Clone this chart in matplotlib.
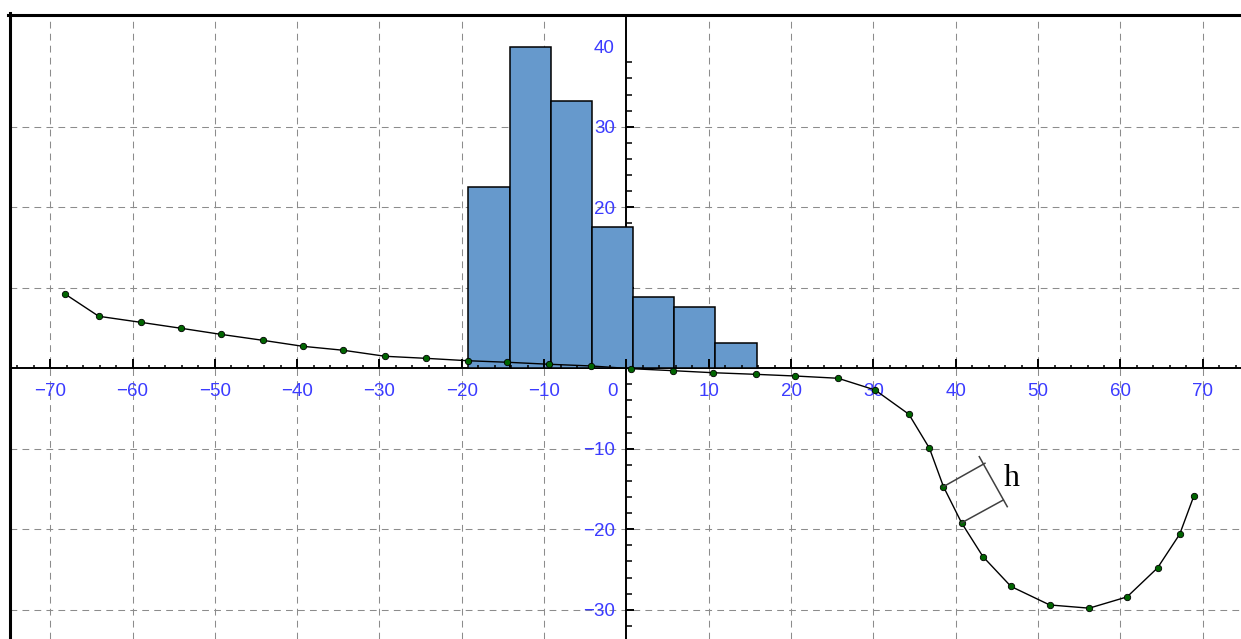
import matplotlib
matplotlib.use('Agg')
import matplotlib.pyplot as plt
from matplotlib.lines import Line2D
from matplotlib.ticker import FixedLocator

# ---------------- data ----------------
bin_left_edges = [-19.2, -14.2, -9.2, -4.2, 0.8, 5.8, 10.8]
bin_width = 5.0
bar_heights = [22.5, 39.9, 33.2, 17.5, 8.9, 7.6, 3.2]

curve_x = [-68.2, -64.1, -59.0, -54.1, -49.3, -44.2, -39.3, -34.4, -29.3, -24.4,
           -19.3, -14.5, -9.4, -4.3, 0.6, 5.7, 10.5, 15.7, 20.5, 25.7,
           30.2, 34.3, 36.8, 38.5, 40.7, 43.3, 46.7, 51.4, 56.2, 60.8,
           64.5, 67.2, 68.9]
curve_y = [9.23, 6.46, 5.71, 4.97, 4.22, 3.48, 2.73, 2.24, 1.49, 1.24,
           0.94, 0.75, 0.50, 0.29, -0.05, -0.30, -0.55, -0.75, -0.96, -1.24,
           -2.7, -5.71, -9.94, -14.7, -19.2, -23.4, -27.1, -29.4, -29.8, -28.4,
           -24.8, -20.6, -15.9]

h_line1_x = [38.5, 43.54]
h_line1_y = [-14.7, -11.8]
h_line2_x = [40.7, 45.77]
h_line2_y = [-19.2, -16.36]
h_cross_x = [42.85, 46.25]
h_cross_y = [-10.98, -17.19]
h_label = 'h'
h_label_pos = (46.8, -14.6)

x_major = list(range(-70, 71, 10))
x_grid = [v for v in x_major if v != 0]
x_minor = [v for v in range(-74, 75, 2) if v % 10 != 0]
y_major = [-30, -20, -10, 10, 20, 30, 40]
y_grid = [-30, -20, -10, 10, 20, 30]
y_minor = [v for v in range(-32, 39, 2) if v % 10 != 0]

# ---------------- figure ----------------
W, H = 1241, 639
fig = plt.figure(figsize=(W / 100, H / 100), dpi=100)
fig.patch.set_facecolor('white')
ax = fig.add_axes([9.5 / W, 0, 1 - 9.5 / W, 1 - 14.5 / H])
ax.set_facecolor('white')
ax.set_xlim(-74.94, 74.64)
ax.set_ylim(-33.63, 43.95)

label_color = '#3b3bff'
tick_font = dict(family='Liberation Sans', size=13.5)

# grid
for gx in x_grid:
    ax.axvline(gx, color='#8c8c8c', lw=0.75, linestyle=(0, (6.5, 5)), zorder=0.5)
for gy in y_grid:
    ax.axhline(gy, color='#8c8c8c', lw=0.75, linestyle=(0, (6.5, 5)), zorder=0.5)

# bars
ax.bar(bin_left_edges, bar_heights, width=bin_width, align='edge',
       color='#6699cc', edgecolor='black', linewidth=1.1, zorder=2.55)

# curve
ax.plot(curve_x, curve_y, color='black', lw=1.0, marker='o', ms=4.6,
        mfc='#006400', mec='black', mew=0.6, zorder=4)

# h annotation
for lx, ly in [(h_line1_x, h_line1_y), (h_line2_x, h_line2_y), (h_cross_x, h_cross_y)]:
    ax.plot(lx, ly, color='#404040', lw=1.1, zorder=4)
ax.text(h_label_pos[0], h_label_pos[1], h_label, family='Liberation Serif',
        fontsize=23, ha='center', va='baseline', color='black', zorder=5)

# spines as centered axes
for s in ['top', 'right']:
    ax.spines[s].set_visible(False)
ax.spines['left'].set_position(('data', 0))
ax.spines['bottom'].set_position(('data', 0))
ax.spines['left'].set_linewidth(1.4)
ax.spines['bottom'].set_linewidth(1.4)

def fmt(v):
    return str(v).replace('-', '\u2212')

ax.set_xticks(x_major, labels=['' if v == 0 else fmt(v) for v in x_major])
ax.xaxis.set_minor_locator(FixedLocator(x_minor))
ax.set_yticks(y_major, labels=[fmt(v) for v in y_major])
ax.yaxis.set_minor_locator(FixedLocator(y_minor))

ax.tick_params(axis='x', which='major', direction='in', length=6.5, width=1.4,
               pad=10.5, labelcolor=label_color)
ax.tick_params(axis='x', which='minor', direction='in', length=2.2, width=1.1)
ax.tick_params(axis='y', which='major', direction='in', length=6, width=1.4,
               pad=8.3, labelcolor=label_color)
ax.tick_params(axis='y', which='minor', direction='in', length=4, width=1.1)
for lab in ax.get_xticklabels() + ax.get_yticklabels():
    lab.set_fontfamily(tick_font['family'])
    lab.set_fontsize(tick_font['size'])
for t in ax.yaxis.get_major_ticks():
    if abs(t.get_loc() - 40) < 1e-9:
        t.tick1line.set_visible(False)

ax.xaxis.set_zorder(2.6)
ax.yaxis.set_zorder(2.5)

# "0" label of x axis, shifted left of the vertical axis
ax.annotate(fmt(0), xy=(0, 0), xytext=(-10.4, -10.5), textcoords='offset points',
            ha='center', va='top', color=label_color,
            family=tick_font['family'], fontsize=tick_font['size'])

# outer frame (left and top only)
fig.add_artist(Line2D([9.5 / W, 9.5 / W], [0, 1 - 13.3 / H], color='black',
                      lw=2.2, transform=fig.transFigure))
fig.add_artist(Line2D([8 / W, 1], [1 - 14.6 / H, 1 - 14.6 / H], color='black',
                      lw=2.2, transform=fig.transFigure))

fig.savefig('out.png', dpi=100, facecolor='white')
